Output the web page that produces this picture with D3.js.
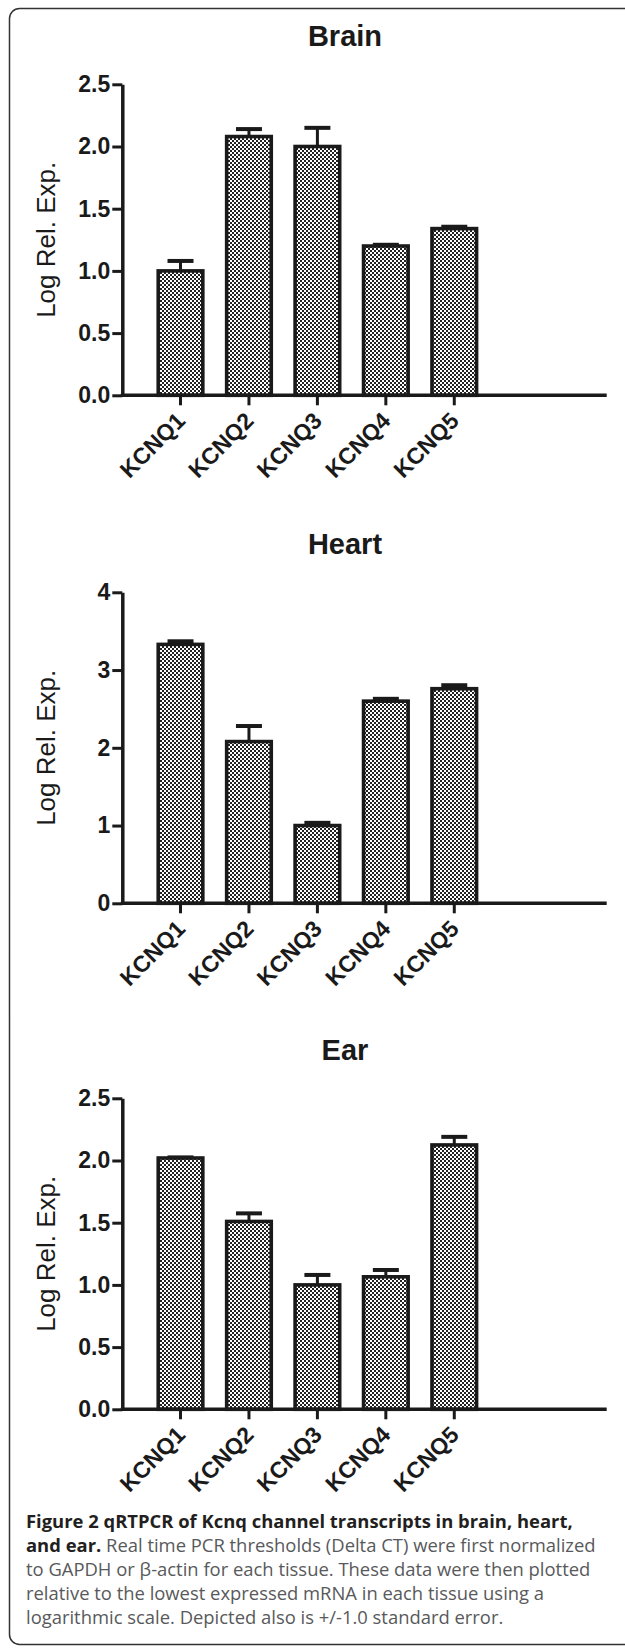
<!DOCTYPE html>
<html>
<head>
<meta charset="utf-8">
<script src="https://cdn.jsdelivr.net/npm/d3@7"></script>
<style>
  body { margin: 0; background: #fff; }
  svg { display: block; }
</style>
</head>
<body>
<svg id="fig" width="625" height="1648"></svg>
<script>
(function () {
  const categories = ["KCNQ1", "KCNQ2", "KCNQ3", "KCNQ4", "KCNQ5"];

  const brainValues = [1.00, 2.08, 2.00, 1.20, 1.34];
  const brainErrors = [0.08, 0.06, 0.15, 0.01, 0.015];
  const brainTicks = [0, 0.5, 1.0, 1.5, 2.0, 2.5];

  const heartValues = [3.33, 2.08, 1.00, 2.60, 2.76];
  const heartErrors = [0.04, 0.20, 0.035, 0.03, 0.045];
  const heartTicks = [0, 1, 2, 3, 4];

  const earValues = [2.02, 1.51, 1.00, 1.065, 2.125];
  const earErrors = [0.005, 0.065, 0.08, 0.055, 0.065];
  const earTicks = [0, 0.5, 1.0, 1.5, 2.0, 2.5];

  const captionLines = [
    [["Figure 2 qRTPCR of Kcnq channel transcripts in brain, heart,", true]],
    [["and ear.", true], [" Real time PCR thresholds (Delta CT) were first normalized", false]],
    [["to GAPDH or \u03b2-actin for each tissue. These data were then plotted", false]],
    [["relative to the lowest expressed mRNA in each tissue using a", false]],
    [["logarithmic scale. Depicted also is +/-1.0 standard error.", false]]
  ];

  const svg = d3.select("#fig");
  const font = "'Liberation Sans', Arial, Helvetica, sans-serif";
  const ink = "#1a1a1a";

  const defs = svg.append("defs");
  const pat = defs.append("pattern")
    .attr("id", "checker")
    .attr("width", 4)
    .attr("height", 4)
    .attr("patternUnits", "userSpaceOnUse");
  pat.append("rect").attr("width", 4).attr("height", 4).attr("fill", "#fff");
  pat.append("rect").attr("width", 2).attr("height", 2).attr("fill", "#222");
  pat.append("rect").attr("x", 2).attr("y", 2).attr("width", 2).attr("height", 2).attr("fill", "#222");

  // frame, right side runs off the page
  svg.append("rect")
    .attr("x", 9.5)
    .attr("y", 8.5)
    .attr("width", 640)
    .attr("height", 1636)
    .attr("rx", 10)
    .attr("fill", "none")
    .attr("stroke", "#333")
    .attr("stroke-width", 1.5);

  const plotLeft = 122.3;
  const plotRight = 606.7;
  const plotH = 311;

  drawChart({ title: "Brain", top: 84.3, values: brainValues, errors: brainErrors, ticks: brainTicks, fmt: d3.format(".1f") });
  drawChart({ title: "Heart", top: 592.3, values: heartValues, errors: heartErrors, ticks: heartTicks, fmt: d3.format("d") });
  drawChart({ title: "Ear", top: 1098.3, values: earValues, errors: earErrors, ticks: earTicks, fmt: d3.format(".1f") });

  function drawChart(cfg) {
    const g = svg.append("g");
    const base = cfg.top + plotH;

    const y = d3.scaleLinear()
      .domain([0, d3.max(cfg.ticks)])
      .range([base, cfg.top]);

    const x = d3.scaleBand()
      .domain(categories)
      .range([146.3, 488.5])
      .paddingInner(0.29)
      .paddingOuter(0.145);

    const data = categories.map((c, i) => ({ name: c, value: cfg.values[i], err: cfg.errors[i] }));

    // bars
    g.selectAll("rect.bar")
      .data(data)
      .enter()
      .append("rect")
      .attr("class", "bar")
      .attr("x", d => x(d.name) + 2)
      .attr("y", d => y(d.value))
      .attr("width", x.bandwidth() - 4)
      .attr("height", d => base - y(d.value))
      .attr("fill", "url(#checker)")
      .attr("stroke", ink)
      .attr("stroke-width", 3.6);

    // error bars, upper only
    const cx = d => x(d.name) + x.bandwidth() / 2;
    g.selectAll("line.err")
      .data(data)
      .enter()
      .append("line")
      .attr("class", "err")
      .attr("x1", cx)
      .attr("x2", cx)
      .attr("y1", d => y(d.value))
      .attr("y2", d => y(d.value + d.err))
      .attr("stroke", ink)
      .attr("stroke-width", 3);
    g.selectAll("line.cap")
      .data(data)
      .enter()
      .append("line")
      .attr("class", "cap")
      .attr("x1", d => cx(d) - 13)
      .attr("x2", d => cx(d) + 13)
      .attr("y1", d => y(d.value + d.err))
      .attr("y2", d => y(d.value + d.err))
      .attr("stroke", ink)
      .attr("stroke-width", 4);

    // y axis
    const yAxis = d3.axisLeft(y)
      .tickValues(cfg.ticks)
      .tickFormat(cfg.fmt)
      .tickSize(10)
      .tickSizeOuter(0)
      .tickPadding(2);
    const ya = g.append("g")
      .attr("transform", `translate(${plotLeft},0)`)
      .call(yAxis);
    ya.select("path.domain").attr("stroke", ink).attr("stroke-width", 3.5);
    ya.selectAll(".tick line").attr("stroke", ink).attr("stroke-width", 3);
    ya.selectAll(".tick text")
      .attr("fill", ink)
      .style("font-family", font)
      .style("font-weight", "bold")
      .style("font-size", "23px");

    // x axis line across the whole plot
    g.append("line")
      .attr("x1", plotLeft - 1.5)
      .attr("x2", plotRight)
      .attr("y1", base)
      .attr("y2", base)
      .attr("stroke", ink)
      .attr("stroke-width", 3.5);

    const xAxis = d3.axisBottom(x).tickSize(10).tickSizeOuter(0).tickFormat("");
    const xa = g.append("g")
      .attr("transform", `translate(0,${base})`)
      .call(xAxis);
    xa.select("path.domain").remove();
    xa.selectAll(".tick line").attr("stroke", ink).attr("stroke-width", 3);

    g.selectAll("text.cat")
      .data(categories)
      .enter()
      .append("text")
      .attr("class", "cat")
      .attr("transform", d => `translate(${x(d) + x.bandwidth() / 2 + 6},${base + 27}) rotate(-45)`)
      .attr("text-anchor", "end")
      .attr("fill", ink)
      .style("font-family", font)
      .style("font-weight", "bold")
      .style("font-size", "23px")
      .text(d => d);

    g.append("text")
      .attr("x", 345)
      .attr("y", cfg.top - 38)
      .attr("text-anchor", "middle")
      .attr("fill", ink)
      .style("font-family", font)
      .style("font-weight", "bold")
      .style("font-size", "29px")
      .text(cfg.title);

    g.append("text")
      .attr("transform", `translate(55,${cfg.top + plotH / 2}) rotate(-90)`)
      .attr("text-anchor", "middle")
      .attr("fill", ink)
      .style("font-family", font)
      .style("font-size", "26px")
      .text("Log Rel. Exp.");
  }

  // caption
  const cap = svg.append("g")
    .style("font-family", "'Open Sans', 'Noto Sans', sans-serif")
    .style("font-size", "16px");
  const lineEls = captionLines.map((parts, i) => {
    const t = cap.append("text")
      .attr("x", 26)
      .attr("y", 1528 + i * 24);
    parts.forEach(([txt, bold]) => {
      t.append("tspan")
        .attr("fill", bold ? "#231f20" : "#58595b")
        .style("font-weight", bold ? "bold" : "normal")
        .text(txt);
    });
    return t;
  });
  const w = lineEls[1].node().getComputedTextLength();
  if (w > 0) cap.style("font-size", (16 * 570 / w).toFixed(2) + "px");
})();
</script>
</body>
</html>
